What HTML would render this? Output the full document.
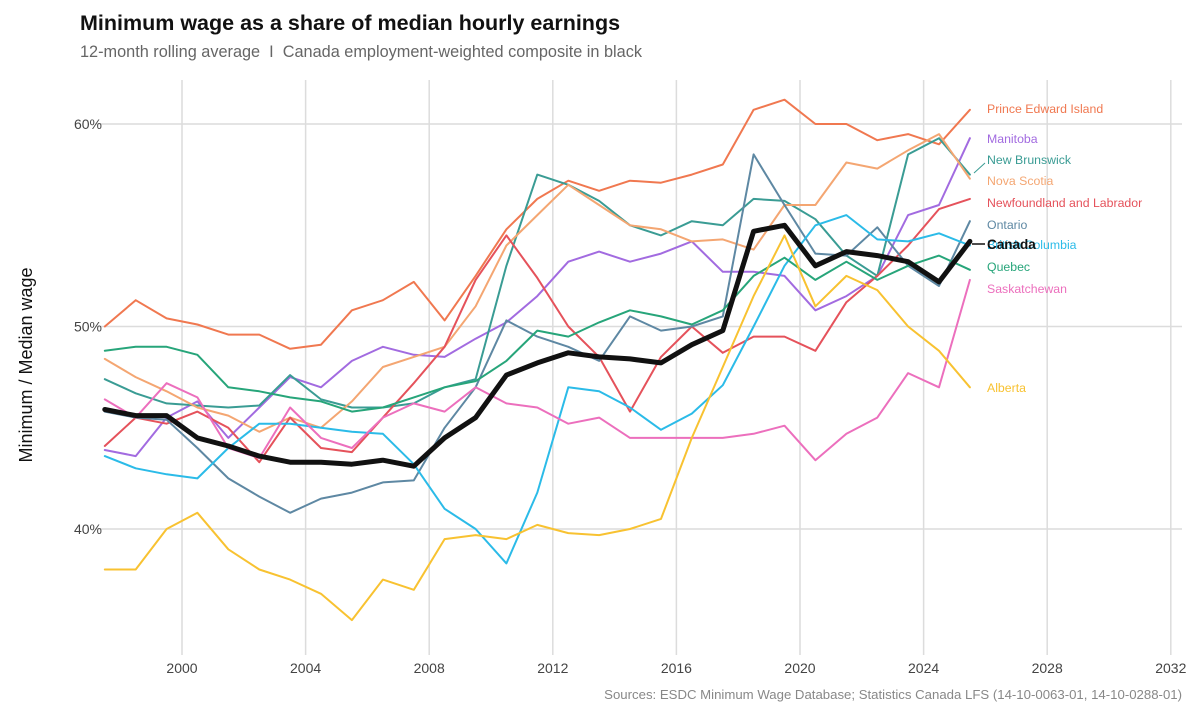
<!DOCTYPE html>
<html><head><meta charset="utf-8"><style>
body{margin:0;background:#fff;font-family:"Liberation Sans",sans-serif}
svg text{font-family:"Liberation Sans",sans-serif}
</style></head><body>
<svg id="c" width="1200" height="720">
<text x="80" y="30" font-size="21.5" font-weight="bold" fill="#111">Minimum wage as a share of median hourly earnings</text>
<text x="80" y="57" font-size="16.3" fill="#666">12-month rolling average &#160;I&#160; Canada employment-weighted composite in black</text>
<text transform="translate(32,365) rotate(-90)" text-anchor="middle" font-size="18" fill="#111">Minimum / Median wage</text>
<text x="1182" y="699" text-anchor="end" font-size="13.2" fill="#888">Sources: ESDC Minimum Wage Database; Statistics Canada LFS (14-10-0063-01, 14-10-0288-01)</text>
<g id="grid"></g><g id="series"></g><g id="labels"></g>
</svg>
<script>
const years=[1997.5,1998.5,1999.5,2000.5,2001.5,2002.5,2003.5,2004.5,2005.5,2006.5,2007.5,2008.5,2009.5,2010.5,2011.5,2012.5,2013.5,2014.5,2015.5,2016.5,2017.5,2018.5,2019.5,2020.5,2021.5,2022.5,2023.5,2024.5,2025.5];
const pei=[50.0,51.3,50.4,50.1,49.6,49.6,48.9,49.1,50.8,51.3,52.2,50.3,52.5,54.8,56.3,57.2,56.7,57.2,57.1,57.5,58.0,60.7,61.2,60.0,60.0,59.2,59.5,59.0,60.7];
const manitoba=[43.9,43.6,45.5,46.3,44.5,46.0,47.5,47.0,48.3,49.0,48.6,48.5,49.4,50.2,51.5,53.2,53.7,53.2,53.6,54.2,52.7,52.7,52.5,50.8,51.5,52.5,55.5,56.0,59.3];
const newBrunswick=[47.4,46.7,46.2,46.1,46.0,46.1,47.6,46.4,46.0,46.0,46.2,47.0,47.4,53.0,57.5,57.0,56.2,55.0,54.5,55.2,55.0,56.3,56.2,55.3,53.5,52.5,58.5,59.3,57.5];
const novaScotia=[48.4,47.5,46.8,46.0,45.6,44.8,45.5,45.0,46.3,48.0,48.5,49.0,51.0,54.0,55.5,57.0,56.0,55.0,54.8,54.2,54.3,53.8,56.0,56.0,58.1,57.8,58.7,59.5,57.3];
const newfoundland=[44.1,45.5,45.2,45.8,45.0,43.3,45.5,44.0,43.8,45.5,47.2,49.0,52.3,54.5,52.4,50.0,48.5,45.8,48.5,50.0,48.7,49.5,49.5,48.8,51.2,52.5,54.0,55.8,56.3];
const ontario=[45.8,45.5,45.4,44.0,42.5,41.6,40.8,41.5,41.8,42.3,42.4,45.0,47.0,50.3,49.5,49.0,48.3,50.5,49.8,50.0,50.5,58.5,56.0,53.6,53.5,54.9,53.0,52.0,55.2];
const bc=[43.6,43.0,42.7,42.5,44.0,45.2,45.2,45.0,44.8,44.7,43.2,41.0,40.0,38.3,41.8,47.0,46.8,46.0,44.9,45.7,47.1,50.0,53.0,55.0,55.5,54.3,54.2,54.6,54.0];
const quebec=[48.8,49.0,49.0,48.6,47.0,46.8,46.5,46.3,45.8,46.0,46.5,47.0,47.3,48.3,49.8,49.5,50.2,50.8,50.5,50.1,50.8,52.5,53.4,52.3,53.2,52.3,53.0,53.5,52.8];
const saskatchewan=[46.4,45.5,47.2,46.5,44.0,43.5,46.0,44.5,44.0,45.5,46.2,45.8,47.0,46.2,46.0,45.2,45.5,44.5,44.5,44.5,44.5,44.7,45.1,43.4,44.7,45.5,47.7,47.0,52.3];
const alberta=[38.0,38.0,40.0,40.8,39.0,38.0,37.5,36.8,35.5,37.5,37.0,39.5,39.7,39.5,40.2,39.8,39.7,40.0,40.5,44.5,48.0,51.5,54.5,51.0,52.5,51.8,50.0,48.8,47.0];
const canada=[45.9,45.6,45.6,44.5,44.1,43.6,43.3,43.3,43.2,43.4,43.1,44.5,45.5,47.6,48.2,48.7,48.5,48.4,48.2,49.1,49.8,54.7,55.0,53.0,53.7,53.5,53.2,52.2,54.2];
const xTicks=[2000,2004,2008,2012,2016,2020,2024,2028,2032];
const yTicks=[40,50,60];
const seriesNames=["Prince Edward Island","Manitoba","New Brunswick","Nova Scotia","Newfoundland and Labrador","Ontario","British Columbia","Quebec","Saskatchewan","Alberta","Canada"];

const X=y=>182+(y-2000)*30.9;
const Y=v=>124+(60-v)*20.25;
const NS="http://www.w3.org/2000/svg";
function mk(t,a,p){const e=document.createElementNS(NS,t);for(const k in a)e.setAttribute(k,a[k]);p.appendChild(e);return e;}
const grid=document.getElementById('grid'),ser=document.getElementById('series'),lab=document.getElementById('labels');
xTicks.forEach(t=>{
 const l=mk('line',{x1:X(t),x2:X(t),y1:80,y2:655,stroke:'#dcdcdc','stroke-width':1.5},grid);
 
 
 const tx=mk('text',{x:X(t),y:673,'text-anchor':'middle','font-size':14,fill:'#444'},grid);tx.textContent=t;
 
 
});
yTicks.forEach(t=>{
 const l=mk('line',{x1:95,x2:1182,y1:Y(t),y2:Y(t),stroke:'#dcdcdc','stroke-width':1.5},grid);
 
 
 const tx=mk('text',{x:102,y:Y(t)+5,'text-anchor':'end','font-size':14,fill:'#444'},grid);tx.textContent=t+'%';
 
 
});
const data=[pei,manitoba,newBrunswick,novaScotia,newfoundland,ontario,bc,quebec,saskatchewan,alberta,canada];
const colors=['#f07850','#a26be0','#3a9c94','#f4a672','#e5525b','#5e88a3','#2bbbe8','#27a57a','#ec6fbd','#f8c231','#111'];
const labelY=[109,139,160,181,203,225,245,267,289,388,245];
data.forEach((arr,i)=>{
 const pts=arr.map((v,j)=>X(years[j]).toFixed(1)+','+Y(v).toFixed(1)).join(' ');
 const p=mk('polyline',{points:pts,fill:'none',stroke:colors[i],'stroke-width':i==10?5:2,'stroke-linejoin':'round','stroke-linecap':'round'},ser);
 
 
});
data.forEach((arr,i)=>{
 const t=mk('text',{x:987,y:labelY[i]+4,'font-size':i==10?13.5:12.3,'font-weight':i==10?'bold':'normal',fill:colors[i]},lab);
 t.textContent=seriesNames[i];
 
 
});
const l1=mk('line',{x1:974,y1:173,x2:985,y2:163,stroke:'#3a9c94','stroke-width':1},lab);


const l2=mk('line',{x1:972,y1:244,x2:985,y2:244,stroke:'#111','stroke-width':1.5},lab);


</script>
</body></html>
